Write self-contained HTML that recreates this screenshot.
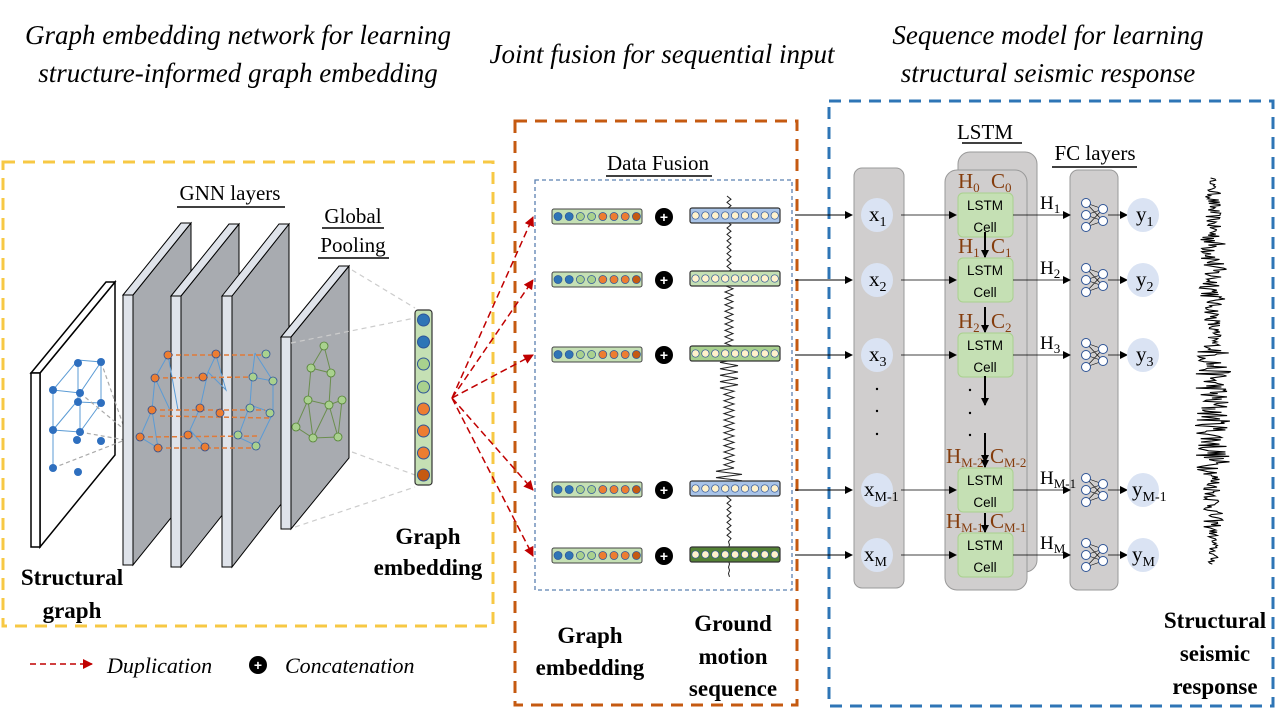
<!DOCTYPE html>
<html><head><meta charset="utf-8"><style>
html,body{margin:0;padding:0;background:#fff;width:1280px;height:720px;overflow:hidden}
svg{display:block}
.t{font-family:"Liberation Serif",serif;font-style:italic;font-size:27px;fill:#000}
.b{font-family:"Liberation Serif",serif;font-weight:bold;font-size:23px;fill:#000}
.s{font-family:"Liberation Serif",serif;font-size:21px;fill:#000}
.c{font-family:"Liberation Sans",sans-serif;font-size:13.5px;fill:#000}
.hc{font-family:"Liberation Serif",serif;font-size:21px;fill:#843c0c}
.h{font-family:"Liberation Serif",serif;font-size:19px;fill:#000}
</style></head><body>
<svg id="s" width="1280" height="720" viewBox="0 0 1280 720" xmlns="http://www.w3.org/2000/svg">
<defs>
<marker id="ar" markerWidth="8" markerHeight="8" refX="7" refY="4" orient="auto" markerUnits="userSpaceOnUse"><path d="M0,0 L8,4 L0,8z" fill="#000"/></marker>
<marker id="rr" markerWidth="10" markerHeight="10" refX="9" refY="5" orient="auto" markerUnits="userSpaceOnUse"><path d="M0,0 L10,5 L0,10z" fill="#c00000"/></marker>
</defs>
<text class="t" x="238" y="44" text-anchor="middle">Graph embedding network for learning</text>
<text class="t" x="238" y="82" text-anchor="middle">structure-informed graph embedding</text>
<text class="t" x="662" y="63" text-anchor="middle">Joint fusion for sequential input</text>
<text class="t" x="1048" y="44" text-anchor="middle">Sequence model for learning</text>
<text class="t" x="1048" y="82" text-anchor="middle">structural seismic response</text>

<rect x="3" y="162" width="490" height="464" fill="none" stroke="#f7c844" stroke-width="3" stroke-dasharray="12,8"/>
<rect x="515" y="121" width="282" height="584" fill="none" stroke="#c55a11" stroke-width="3" stroke-dasharray="12,8"/>
<rect x="829" y="101" width="444" height="605" fill="none" stroke="#2e75b6" stroke-width="3" stroke-dasharray="12,8"/>
<rect x="535" y="180" width="257" height="410" fill="none" stroke="#5b80b0" stroke-width="1.3" stroke-dasharray="4,3"/>

<path d="M40,373 L115,282 L115,455 L40,547z" fill="#fff" stroke="#000" stroke-width="1.5"/>
<path d="M31,373 L106,282 L115,282 L40,373z" fill="#fff" stroke="#000" stroke-width="1.5"/>
<rect x="31" y="373" width="9" height="174" fill="#fff" stroke="#000" stroke-width="1.5"/>
<g stroke="#5b9bd5" stroke-width="1" fill="none">
<path d="M53,390 L78,360 L101,362 L101,403 L80,432 L53,430z M53,390 L80,393 L101,362 M80,393 L80,432 M78,360 L78,400 M53,430 L53,468 M78,402 L101,403 M78,400 L53,430"/>
</g>
<g stroke="#aaa" stroke-width="1.2" stroke-dasharray="4,3" fill="none"><path d="M80,393 L125,430 M101,362 L125,430 M53,468 L125,440 M80,432 L125,440"/></g>
<g fill="#2e6fbf"><circle cx="53" cy="390" r="4"/><circle cx="78" cy="363" r="4"/><circle cx="101" cy="362" r="4"/><circle cx="80" cy="393" r="4"/><circle cx="78" cy="402" r="4"/><circle cx="101" cy="403" r="4"/><circle cx="53" cy="430" r="4"/><circle cx="80" cy="432" r="4"/><circle cx="77" cy="440" r="4"/><circle cx="101" cy="441" r="4"/><circle cx="53" cy="468" r="4"/><circle cx="78" cy="472" r="4"/></g>

<g stroke="#000" stroke-width="1">
<path d="M133,295 L191,223 L191,493 L133,565z" fill="#a8abb0"/><path d="M123,295 L181,223 L191,223 L133,295z" fill="#dfe3ea"/><rect x="123" y="295" width="10" height="270" fill="#dfe3ea"/>
<path d="M181,296 L239,224 L239,494 L181,567z" fill="#a8abb0"/><path d="M171,296 L229,224 L239,224 L181,296z" fill="#dfe3ea"/><rect x="171" y="296" width="10" height="271" fill="#dfe3ea"/>
<path d="M232,296 L289,224 L289,494 L232,567z" fill="#a8abb0"/><path d="M222,296 L279,224 L289,224 L232,296z" fill="#dfe3ea"/><rect x="222" y="296" width="10" height="271" fill="#dfe3ea"/>
<path d="M291,337 L349,266 L349,458 L291,529z" fill="#a8abb0"/><path d="M281,337 L339,266 L349,266 L291,337z" fill="#dfe3ea"/><rect x="281" y="337" width="10" height="192" fill="#dfe3ea"/>
</g>
<g stroke="#5b9bd5" stroke-width="1" fill="none"><path d="M168,355 L155,378 L152,410 L140,437 L158,448 L152,410 M168,355 L178,410 M155,378 L170,410 M216,355 L208,372 L200,408 L190,430 L205,447 M216,355 L226,390 L208,372 M255,353 L252,377 L250,405 L238,437 L257,446 L273,413 L273,381 L255,353 M252,377 L273,381 M250,405 L273,413"/></g>
<g stroke="#e07b39" stroke-width="1.5" stroke-dasharray="5,3" fill="none"><path d="M168,355 L265,355 M155,378 L255,377 M152,410 L265,410 M160,416 L270,418 M140,437 L260,436 M158,448 L258,448"/></g>
<g fill="#ed7d31" stroke="#2f4f8f" stroke-width=".8"><circle cx="168" cy="355" r="4"/><circle cx="155" cy="378" r="4"/><circle cx="152" cy="410" r="4"/><circle cx="140" cy="437" r="4"/><circle cx="158" cy="448" r="4"/><circle cx="216" cy="354" r="4"/><circle cx="203" cy="377" r="4"/><circle cx="200" cy="408" r="4"/><circle cx="188" cy="435" r="4"/><circle cx="205" cy="447" r="4"/><circle cx="220" cy="413" r="4"/></g>
<g fill="#a9d18e" stroke="#2f5597" stroke-width=".8"><circle cx="266" cy="354" r="4"/><circle cx="253" cy="377" r="4"/><circle cx="273" cy="381" r="4"/><circle cx="250" cy="408" r="4"/><circle cx="270" cy="413" r="4"/><circle cx="238" cy="435" r="4"/><circle cx="256" cy="446" r="4"/></g>
<g stroke="#6b8e4e" stroke-width="1" fill="none"><path d="M324,346 L311,368 L331,373 L324,346 M311,368 L308,400 L296,427 L313,438 L308,400 L329,405 L342,400 M331,373 L329,405 L313,438 L338,437 L329,405 M342,400 L338,437"/></g>
<g fill="#a9d18e" stroke="#548235" stroke-width=".8"><circle cx="324" cy="346" r="4"/><circle cx="311" cy="368" r="4"/><circle cx="331" cy="373" r="4"/><circle cx="308" cy="400" r="4"/><circle cx="329" cy="405" r="4"/><circle cx="342" cy="400" r="4"/><circle cx="296" cy="427" r="4"/><circle cx="313" cy="438" r="4"/><circle cx="338" cy="437" r="4"/></g>
<g stroke="#ccc" stroke-width="1.2" stroke-dasharray="5,4"><path d="M352,270 L415,308 M291,343 L415,318 M352,452 L415,475 M295,527 L415,487"/></g>

<rect x="415" y="310" width="17" height="175" rx="3" fill="#c5e0b4" stroke="#333" stroke-width="1.2"/>
<g stroke="#2f5597" stroke-width="1">
<circle cx="423.5" cy="320" r="6" fill="#2e75b6"/><circle cx="423.5" cy="342" r="6" fill="#2e75b6"/><circle cx="423.5" cy="364" r="6" fill="#a9d18e"/><circle cx="423.5" cy="387" r="6" fill="#a9d18e"/><circle cx="423.5" cy="409" r="6" fill="#ed7d31"/><circle cx="423.5" cy="431" r="6" fill="#ed7d31"/><circle cx="423.5" cy="453" r="6" fill="#ed7d31"/><circle cx="423.5" cy="475" r="6" fill="#c55a11"/></g>

<text class="s" x="230" y="200" text-anchor="middle">GNN layers</text><line x1="177" y1="207" x2="285" y2="207" stroke="#000" stroke-width="1.5"/>
<text class="s" x="353" y="223" text-anchor="middle">Global</text><line x1="322" y1="228" x2="384" y2="228" stroke="#000" stroke-width="1.5"/>
<text class="s" x="353" y="252" text-anchor="middle">Pooling</text><line x1="318" y1="258" x2="389" y2="258" stroke="#000" stroke-width="1.5"/>
<text class="b" x="72" y="585" text-anchor="middle">Structural</text>
<text class="b" x="72" y="618" text-anchor="middle">graph</text>
<text class="b" x="428" y="544" text-anchor="middle">Graph</text>
<text class="b" x="428" y="575" text-anchor="middle">embedding</text>

<line x1="30" y1="664" x2="92" y2="664" stroke="#c00000" stroke-width="1.5" stroke-dasharray="6,4" marker-end="url(#rr)"/>
<text class="t" x="107" y="673" style="font-size:22px">Duplication</text>
<circle cx="258" cy="665" r="9" fill="#000"/><text x="258" y="670" text-anchor="middle" fill="#fff" style="font:bold 14px 'Liberation Sans',sans-serif">+</text>
<text class="t" x="285" y="673" style="font-size:22px">Concatenation</text>

<g stroke="#c00000" stroke-width="1.5" stroke-dasharray="7,4" fill="none" marker-end="url(#rr)">
<path d="M452,398 L533,217"/><path d="M452,398 L533,280"/><path d="M452,398 L533,355"/><path d="M452,398 L533,490"/><path d="M452,398 L533,556"/></g>

<text class="s" x="658" y="170" text-anchor="middle">Data Fusion</text><line x1="606" y1="176" x2="712" y2="176" stroke="#000" stroke-width="1.5"/>
<polyline id="zz" fill="none" stroke="#222" stroke-width="1"/>
<g id="rows"></g>

<text class="b" x="590" y="643" text-anchor="middle">Graph</text>
<text class="b" x="590" y="675" text-anchor="middle">embedding</text>
<text class="b" x="733" y="631" text-anchor="middle">Ground</text>
<text class="b" x="733" y="664" text-anchor="middle">motion</text>
<text class="b" x="733" y="696" text-anchor="middle">sequence</text>

<rect x="854" y="168" width="50" height="420" rx="8" fill="#d0cece" stroke="#999"/>
<rect x="958" y="152" width="79" height="420" rx="12" fill="#d0cece" stroke="#999"/>
<rect x="945" y="170" width="82" height="420" rx="12" fill="#d0cece" stroke="#999"/>
<rect x="1070" y="170" width="48" height="420" rx="8" fill="#d0cece" stroke="#999"/>
<text class="s" x="985" y="139" text-anchor="middle">LSTM</text><line x1="962" y1="143" x2="1022" y2="143" stroke="#000" stroke-width="1.5"/>
<text class="s" x="1095" y="160" text-anchor="middle">FC layers</text><line x1="1052" y1="167" x2="1137" y2="167" stroke="#000" stroke-width="1.5"/>
<g fill="#000"><circle cx="877" cy="389" r="1.2"/><circle cx="877" cy="411" r="1.2"/><circle cx="877" cy="434" r="1.2"/><circle cx="970" cy="390" r="1.2"/><circle cx="970" cy="413" r="1.2"/><circle cx="970" cy="435" r="1.2"/></g>
<g id="seq"></g>
<line x1="985" y1="376" x2="985" y2="405" stroke="#000" stroke-width="2" marker-end="url(#ar)"/>
<line x1="985" y1="433" x2="985" y2="462" stroke="#000" stroke-width="2" marker-end="url(#ar)"/>

<polyline id="wave" fill="none" stroke="#000" stroke-width="1.1"/>
<text class="b" x="1215" y="628" text-anchor="middle">Structural</text>
<text class="b" x="1215" y="661" text-anchor="middle">seismic</text>
<text class="b" x="1215" y="694" text-anchor="middle">response</text>
</svg>
<script>
var NS="http://www.w3.org/2000/svg",S=document.getElementById('s');
function el(p,t,a,tx){var e=document.createElementNS(NS,t);for(var k in a)e.setAttribute(k,a[k]);if(tx!==undefined)e.textContent=tx;p.appendChild(e);return e;}
var rows=document.getElementById('rows');
var ys=[217,280,355,490,556],rc=['#a9c4e8','#c5e0b4','#a9d18e','#a9c4e8','#548235'];
var lc=['#2e75b6','#2e75b6','#a9d18e','#a9d18e','#ed7d31','#ed7d31','#ed7d31','#c55a11'];
var pts=[],y=196,i=0;
while(y<578){var a;if(y<280)a=2;else if(y<355)a=4;else if(y<390)a=9;else if(y<470)a=5;else if(y<490)a=13;else if(y<540)a=2;else a=0.5;pts.push((729+(i%2?a:-a))+','+y);y+=3.2;i++;}
document.getElementById('zz').setAttribute('points',pts.join(' '));
ys.forEach(function(y,r){
 el(rows,'rect',{x:552,y:y-8,width:90,height:15,rx:2,fill:'#c5e0b4',stroke:'#444','stroke-width':1});
 for(var j=0;j<8;j++)el(rows,'circle',{cx:558+j*11.2,cy:y-0.5,r:4,fill:lc[j],stroke:'#2f5597','stroke-width':.7});
 el(rows,'circle',{cx:664,cy:y,r:9,fill:'#000'});
 el(rows,'text',{x:664,y:y+5,'text-anchor':'middle',fill:'#fff',style:"font:bold 14px 'Liberation Sans',sans-serif"},'+');
 el(rows,'rect',{x:690,y:y-9,width:90,height:15,rx:2,fill:rc[r],stroke:'#333','stroke-width':1.2});
 for(var j=0;j<9;j++)el(rows,'circle',{cx:695.5+j*9.9,cy:y-1.5,r:3.7,fill:'#fff2cc',stroke:'#2f5597','stroke-width':.7});
});
var sq=document.getElementById('seq');
var sy=[215,280,355,490,555],xs=['1','2','3','M-1','M'];
var hc=[['0','0'],['1','1'],['2','2'],['M-2','M-2'],['M-1','M-1']];
sy.forEach(function(y,r){
 el(sq,'line',{x1:795,y1:y,x2:852,y2:y,stroke:'#000','stroke-width':1,'marker-end':'url(#ar)'});
 el(sq,'ellipse',{cx:877,cy:y,rx:16,ry:17,fill:'#dae3f3'});
 var t=el(sq,'text',{x:r>=3?864:869,y:y+6,'class':'h',style:'font-size:21px'},'x');
 el(t,'tspan',{dy:5,style:'font-size:14px'},xs[r]);
 el(sq,'line',{x1:901,y1:y,x2:956,y2:y,stroke:'#000','stroke-width':.8,'marker-end':'url(#ar)'});
 el(sq,'rect',{x:958,y:y-22,width:55,height:44,rx:5,fill:'#c5e0b4',stroke:'#a9d18e'});
 el(sq,'text',{x:985,y:y-5,'text-anchor':'middle','class':'c'},'LSTM');
 el(sq,'text',{x:985,y:y+17,'text-anchor':'middle','class':'c'},'Cell');
 var ht=el(sq,'text',{x:r>=3?946:958,y:y-27,'class':'hc'},'H');el(ht,'tspan',{dy:4,style:'font-size:13px'},hc[r][0]);
 var ct=el(sq,'text',{x:r>=3?990:991,y:y-27,'class':'hc'},'C');el(ct,'tspan',{dy:4,style:'font-size:13px'},hc[r][1]);
 if(r>=1)el(sq,'line',{x1:985,y1:y-22-(r==3?30:r==4?20:26),x2:985,y2:y-23,stroke:'#000','stroke-width':2,'marker-end':'url(#ar)'});
 el(sq,'line',{x1:1013,y1:y,x2:1070,y2:y,stroke:'#000','stroke-width':.8,'marker-end':'url(#ar)'});
 var h=el(sq,'text',{x:1040,y:y-6,'class':'h'},'H');el(h,'tspan',{dy:4,style:'font-size:13px'},['1','2','3','M-1','M'][r]);
 var L=[[1086,y-12],[1086,y],[1086,y+12]],R=[[1103,y-6],[1103,y+6]];
 L.forEach(function(a){R.forEach(function(b){el(sq,'line',{x1:a[0],y1:a[1],x2:b[0],y2:b[1],stroke:'#000','stroke-width':.6});});});
 L.concat(R).forEach(function(a){el(sq,'circle',{cx:a[0],cy:a[1],r:4.5,fill:'#fff',stroke:'#2f5597','stroke-width':1});});
 el(sq,'line',{x1:1108,y1:y,x2:1127,y2:y,stroke:'#000','stroke-width':.8,'marker-end':'url(#ar)'});
 el(sq,'ellipse',{cx:1143,cy:y,rx:16,ry:17,fill:'#dae3f3'});
 var yt=el(sq,'text',{x:r>=3?1132:1136,y:y+6,'class':'h',style:'font-size:21px'},'y');el(yt,'tspan',{dy:5,style:'font-size:14px'},xs[r]);
});
var w=[],s=12345;function rnd(){s=(s*16807)%2147483647;return s/2147483647-0.5;}
for(var yy=178;yy<565;yy+=1.1){var e=3;if(yy>190&&yy<230)e=8;if(yy>230&&yy<300)e=14;if(yy>300&&yy<350)e=9;if(yy>350&&yy<470)e=18;if(yy>470&&yy<530)e=10;if(yy>530)e=5;w.push((1213+rnd()*2*e).toFixed(1)+','+yy.toFixed(1));}
document.getElementById('wave').setAttribute('points',w.join(' '));
</script>
</body></html>
